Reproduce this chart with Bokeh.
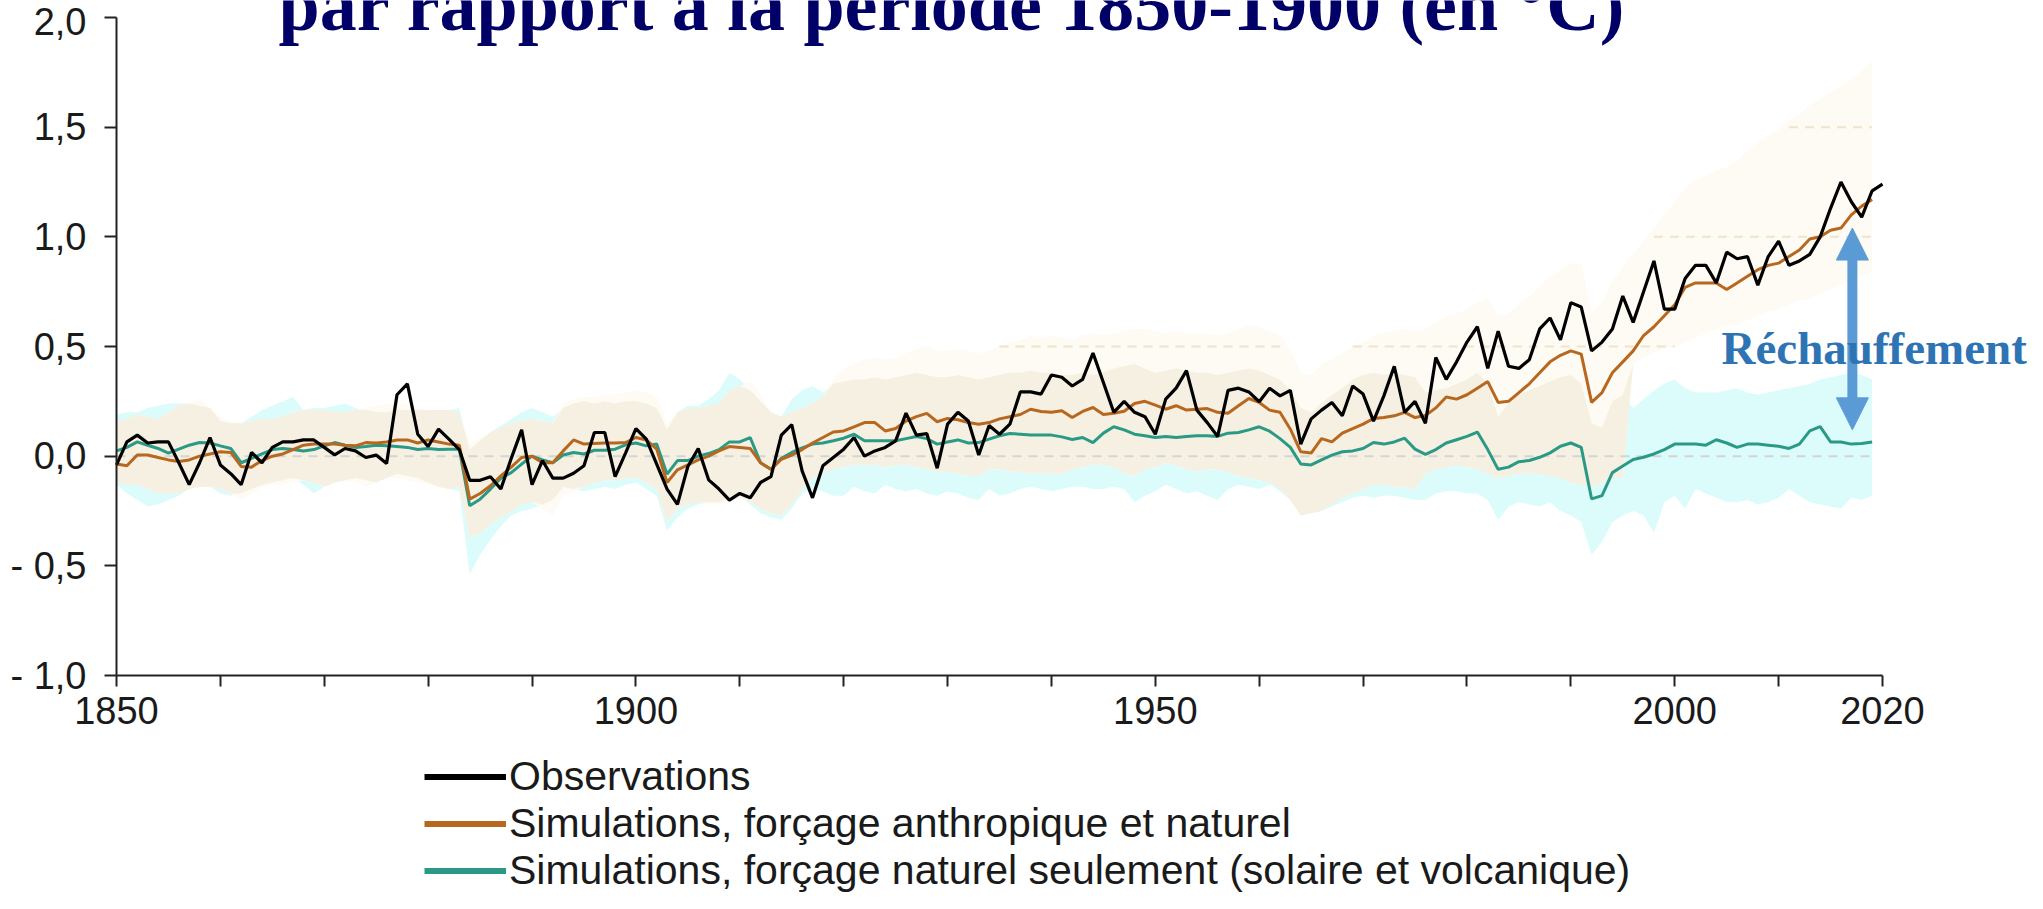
import numpy as np
from bokeh.plotting import figure
from bokeh.models import (Range1d, FixedTicker, Label, Arrow, NormalHead,
                          Legend, LegendItem)
from bokeh.embed import file_html
from bokeh.resources import INLINE

# ---------------- data ----------------
years_obs = list(range(1850, 2021))
years_sim = list(range(1850, 2020))

obs = [
    -0.04, 0.065, 0.096, 0.06, 0.065, 0.065, -0.03, -0.13, -0.03, 0.085,
    -0.04, -0.08, -0.13, 0.017, -0.03, 0.04, 0.065, 0.065, 0.074, 0.074,
    0.04, 0.006, 0.035, 0.024, -0.006, 0.005, -0.033, 0.28, 0.33, 0.10,
    0.044, 0.123, 0.078, 0.03, -0.11, -0.11, -0.094, -0.15, -0.01, 0.12,
    -0.13, -0.02, -0.10, -0.10, -0.078, -0.044, 0.108, 0.108, -0.093, 0.014,
    0.126, 0.078, -0.036, -0.15, -0.22, -0.047, 0.035, -0.108, -0.15, -0.20,
    -0.17, -0.19, -0.12, -0.093, 0.096, 0.144, -0.067, -0.19, -0.044, -0.006,
    0.032, 0.085, 0.0, 0.024, 0.04, 0.07, 0.196, 0.096, 0.103, -0.055,
    0.146, 0.20, 0.16, 0.005, 0.14, 0.10, 0.146, 0.293, 0.293, 0.283,
    0.37, 0.36, 0.32, 0.35, 0.47, 0.336, 0.20, 0.25, 0.20, 0.18,
    0.10, 0.26, 0.31, 0.39, 0.21, 0.153, 0.09, 0.30, 0.31, 0.293,
    0.248, 0.31, 0.275, 0.30, 0.055, 0.17, 0.21, 0.245, 0.184, 0.32,
    0.283, 0.16, 0.275, 0.41, 0.20, 0.25, 0.15, 0.45, 0.35, 0.43,
    0.52, 0.59, 0.40, 0.57, 0.41, 0.40, 0.44, 0.58, 0.63, 0.53,
    0.70, 0.68, 0.48, 0.52, 0.58, 0.73, 0.61, 0.75, 0.89, 0.67,
    0.67, 0.81, 0.87, 0.87, 0.79, 0.93, 0.90, 0.91, 0.78, 0.91,
    0.98, 0.87, 0.89, 0.92, 1.00, 1.13, 1.25, 1.16, 1.09, 1.21,
    1.24,
]

anth = [
    -0.036, -0.044, 0.005, 0.005, -0.006, -0.017, -0.024, -0.017, 0.0, 0.01,
    0.02, 0.017, -0.047, -0.05, -0.02, 0.0, 0.01, 0.03, 0.05, 0.055,
    0.055, 0.055, 0.05, 0.047, 0.062, 0.06, 0.065, 0.074, 0.074, 0.06,
    0.074, 0.065, 0.055, 0.05, -0.196, -0.17, -0.135, -0.09, -0.05, -0.006,
    0.0, -0.03, -0.03, 0.024, 0.074, 0.055, 0.058, 0.06, 0.06, 0.062,
    0.085, 0.074, 0.032, -0.12, -0.062, -0.04, -0.017, 0.0, 0.024, 0.044,
    0.04, 0.035, -0.03, -0.06, -0.014, 0.005, 0.03, 0.06, 0.085, 0.11,
    0.115, 0.134, 0.153, 0.153, 0.115, 0.126, 0.16, 0.18, 0.195, 0.157,
    0.172, 0.166, 0.153, 0.146, 0.153, 0.17, 0.18, 0.19, 0.214, 0.204,
    0.20, 0.207, 0.176, 0.204, 0.222, 0.19, 0.196, 0.205, 0.24, 0.25,
    0.233, 0.214, 0.23, 0.21, 0.214, 0.217, 0.20, 0.196, 0.23, 0.263,
    0.245, 0.21, 0.20, 0.123, 0.02, 0.014, 0.08, 0.065, 0.105, 0.126,
    0.146, 0.172, 0.176, 0.184, 0.20, 0.176, 0.185, 0.22, 0.27, 0.26,
    0.28, 0.31, 0.34, 0.245, 0.25, 0.29, 0.33, 0.38, 0.43, 0.46,
    0.48, 0.465, 0.245, 0.29, 0.38, 0.43, 0.48, 0.55, 0.59, 0.64,
    0.69, 0.77, 0.79, 0.79, 0.79, 0.76, 0.79, 0.82, 0.85, 0.87,
    0.88, 0.91, 0.94, 0.99, 1.00, 1.03, 1.04, 1.10, 1.14, 1.17,
]

nat = [
    0.024, 0.04, 0.065, 0.05, 0.035, 0.014, 0.032, 0.05, 0.062, 0.06,
    0.047, 0.035, -0.03, -0.01, 0.01, 0.03, 0.035, 0.03, 0.024, 0.03,
    0.047, 0.062, 0.05, 0.04, 0.044, 0.05, 0.047, 0.044, 0.04, 0.03,
    0.035, 0.03, 0.032, 0.032, -0.226, -0.196, -0.15, -0.10, -0.075, -0.036,
    0.0, -0.017, -0.03, 0.005, 0.017, 0.01, 0.027, 0.027, 0.032, 0.052,
    0.06, 0.047, 0.055, -0.082, -0.02, -0.02, 0.0, 0.012, 0.03, 0.065,
    0.065, 0.085, -0.03, -0.06, -0.01, 0.017, 0.038, 0.055, 0.06, 0.07,
    0.082, 0.10, 0.07, 0.07, 0.07, 0.07, 0.08, 0.09, 0.08, 0.055,
    0.065, 0.074, 0.06, 0.062, 0.078, 0.093, 0.103, 0.10, 0.096, 0.096,
    0.096, 0.088, 0.076, 0.085, 0.062, 0.105, 0.134, 0.12, 0.10, 0.093,
    0.085, 0.09, 0.085, 0.09, 0.093, 0.093, 0.09, 0.105, 0.108, 0.12,
    0.134, 0.114, 0.08, 0.04, -0.036, -0.04, -0.017, 0.005, 0.02, 0.024,
    0.035, 0.062, 0.055, 0.065, 0.082, 0.032, 0.008, 0.03, 0.06, 0.075,
    0.09, 0.11, 0.03, -0.06, -0.05, -0.025, -0.02, -0.005, 0.015, 0.045,
    0.06, 0.04, -0.195, -0.18, -0.075, -0.045, -0.015, -0.005, 0.01, 0.03,
    0.055, 0.055, 0.055, 0.05, 0.075, 0.06, 0.04, 0.055, 0.055, 0.05,
    0.045, 0.035, 0.055, 0.115, 0.135, 0.065, 0.065, 0.055, 0.058, 0.065,
]

nat_hi = [
    0.19, 0.20, 0.20, 0.22, 0.23, 0.24, 0.24, 0.24, 0.23, 0.22,
    0.16, 0.15, 0.15, 0.18, 0.21, 0.23, 0.25, 0.27, 0.21, 0.22,
    0.22, 0.23, 0.24, 0.22, 0.21, 0.20, 0.20, 0.21, 0.21, 0.21,
    0.21, 0.21, 0.21, 0.22, 0.03, 0.07, 0.11, 0.14, 0.17, 0.20,
    0.22, 0.20, 0.18, 0.22, 0.24, 0.25, 0.24, 0.25, 0.24, 0.25,
    0.25, 0.24, 0.22, 0.12, 0.20, 0.23, 0.23, 0.26, 0.30, 0.38,
    0.35, 0.30, 0.25, 0.20, 0.18, 0.26, 0.30, 0.32, 0.29, 0.33,
    0.34, 0.35, 0.35, 0.36, 0.35, 0.36, 0.37, 0.38, 0.37, 0.36,
    0.36, 0.37, 0.36, 0.35, 0.36, 0.37, 0.38, 0.38, 0.39, 0.38,
    0.38, 0.37, 0.37, 0.38, 0.37, 0.38, 0.40, 0.41, 0.42, 0.40,
    0.38, 0.39, 0.40, 0.39, 0.38, 0.38, 0.37, 0.38, 0.39, 0.40,
    0.39, 0.37, 0.35, 0.30, 0.22, 0.20, 0.24, 0.28, 0.31, 0.35,
    0.37, 0.38, 0.37, 0.38, 0.37, 0.36, 0.29, 0.30, 0.31, 0.33,
    0.35, 0.38, 0.33, 0.18, 0.24, 0.28, 0.30, 0.32, 0.34, 0.36,
    0.37, 0.33, 0.15, 0.13, 0.25, 0.28, 0.22, 0.26, 0.30, 0.33,
    0.35, 0.31, 0.29, 0.29, 0.29, 0.30, 0.31, 0.29, 0.28, 0.29,
    0.30, 0.31, 0.32, 0.33, 0.35, 0.36, 0.37, 0.38, 0.37, 0.35,
]

nat_lo = [
    -0.13, -0.17, -0.20, -0.23, -0.22, -0.20, -0.18, -0.15, -0.14, -0.14,
    -0.17, -0.18, -0.17, -0.15, -0.13, -0.12, -0.11, -0.10, -0.13, -0.17,
    -0.14, -0.12, -0.11, -0.10, -0.11, -0.12, -0.10, -0.08, -0.09, -0.10,
    -0.12, -0.14, -0.15, -0.16, -0.54, -0.45, -0.38, -0.32, -0.27, -0.25,
    -0.24, -0.22, -0.20, -0.14, -0.15, -0.16, -0.15, -0.14, -0.15, -0.13,
    -0.12, -0.15, -0.18, -0.34, -0.28, -0.24, -0.22, -0.21, -0.21, -0.19,
    -0.18, -0.22, -0.26, -0.28, -0.29, -0.24, -0.17, -0.15, -0.16, -0.18,
    -0.18, -0.14, -0.16, -0.17, -0.13, -0.15, -0.16, -0.15, -0.17, -0.18,
    -0.16, -0.17, -0.19, -0.20, -0.15, -0.18, -0.17, -0.15, -0.14, -0.15,
    -0.16, -0.15, -0.14, -0.14, -0.15, -0.15, -0.14, -0.15, -0.21, -0.18,
    -0.16, -0.13, -0.15, -0.17, -0.16, -0.18, -0.20, -0.15, -0.13, -0.14,
    -0.15, -0.13, -0.16, -0.20, -0.27, -0.26, -0.25, -0.23, -0.21, -0.19,
    -0.18, -0.19, -0.18, -0.18, -0.19, -0.20, -0.20, -0.17, -0.16, -0.16,
    -0.17, -0.17, -0.20, -0.29, -0.23, -0.21, -0.22, -0.23, -0.21, -0.25,
    -0.27, -0.30, -0.45, -0.39, -0.30, -0.27, -0.25, -0.27, -0.35, -0.21,
    -0.18, -0.24, -0.15, -0.17, -0.19, -0.21, -0.21, -0.20, -0.22, -0.21,
    -0.19, -0.15, -0.18, -0.21, -0.22, -0.23, -0.24, -0.19, -0.20, -0.18,
]

anth_hi = [
    0.16, 0.17, 0.19, 0.18, 0.17, 0.20, 0.23, 0.24, 0.26, 0.22,
    0.18, 0.16, 0.15, 0.16, 0.17, 0.17, 0.18, 0.20, 0.21, 0.21,
    0.21, 0.20, 0.20, 0.21, 0.22, 0.23, 0.24, 0.24, 0.24, 0.22,
    0.21, 0.21, 0.21, 0.20, 0.06, 0.08, 0.11, 0.13, 0.15, 0.16,
    0.17, 0.16, 0.15, 0.24, 0.26, 0.27, 0.27, 0.28, 0.28, 0.29,
    0.30, 0.29, 0.27, 0.15, 0.20, 0.22, 0.22, 0.23, 0.24, 0.30,
    0.32, 0.34, 0.28, 0.20, 0.18, 0.20, 0.22, 0.24, 0.27, 0.35,
    0.40, 0.42, 0.44, 0.45, 0.44, 0.45, 0.47, 0.49, 0.50, 0.48,
    0.48, 0.49, 0.48, 0.47, 0.48, 0.50, 0.52, 0.53, 0.55, 0.54,
    0.55, 0.54, 0.53, 0.55, 0.56, 0.55, 0.56, 0.57, 0.58, 0.58,
    0.57, 0.56, 0.57, 0.56, 0.56, 0.56, 0.55, 0.56, 0.58, 0.60,
    0.59, 0.57, 0.55, 0.48, 0.38, 0.37, 0.42, 0.44, 0.47, 0.50,
    0.52, 0.55, 0.56, 0.57, 0.58, 0.57, 0.58, 0.61, 0.64, 0.65,
    0.67, 0.70, 0.72, 0.64, 0.65, 0.69, 0.73, 0.77, 0.82, 0.85,
    0.88, 0.88, 0.66, 0.70, 0.80, 0.86, 0.92, 0.98, 1.04, 1.10,
    1.16, 1.22, 1.26, 1.28, 1.30, 1.32, 1.35, 1.39, 1.43, 1.46,
    1.49, 1.53, 1.56, 1.60, 1.63, 1.66, 1.69, 1.72, 1.76, 1.80,
]

anth_lo = [
    -0.12, -0.13, -0.13, -0.15, -0.17, -0.17, -0.17, -0.15, -0.14, -0.14,
    -0.15, -0.17, -0.20, -0.17, -0.14, -0.13, -0.13, -0.12, -0.11, -0.12,
    -0.14, -0.12, -0.11, -0.12, -0.14, -0.12, -0.10, -0.10, -0.11, -0.12,
    -0.13, -0.14, -0.15, -0.14, -0.37, -0.35, -0.31, -0.28, -0.25, -0.22,
    -0.21, -0.24, -0.27, -0.18, -0.16, -0.14, -0.12, -0.11, -0.11, -0.10,
    -0.10, -0.12, -0.15, -0.30, -0.24, -0.22, -0.21, -0.22, -0.22, -0.20,
    -0.19, -0.21, -0.24, -0.26, -0.27, -0.22, -0.15, -0.10, -0.07, -0.06,
    -0.05, -0.04, -0.04, -0.04, -0.05, -0.04, -0.04, -0.05, -0.06, -0.07,
    -0.07, -0.08, -0.09, -0.09, -0.06, -0.06, -0.07, -0.07, -0.08, -0.08,
    -0.08, -0.08, -0.06, -0.05, -0.04, -0.04, -0.05, -0.08, -0.09, -0.06,
    -0.05, -0.03, -0.04, -0.06, -0.07, -0.06, -0.06, -0.07, -0.09, -0.10,
    -0.11, -0.12, -0.15, -0.20, -0.27, -0.26, -0.25, -0.22, -0.19, -0.17,
    -0.15, -0.13, -0.13, -0.14, -0.14, -0.15, -0.08, -0.06, -0.05, -0.04,
    -0.05, -0.06, -0.08, -0.10, -0.09, -0.08, -0.08, -0.08, -0.09, -0.10,
    -0.12, -0.13, -0.14, -0.12, -0.10, -0.10, 0.42, 0.45, 0.47, 0.49,
    0.50, 0.52, 0.54, 0.56, 0.58, 0.59, 0.60, 0.62, 0.64, 0.66,
    0.67, 0.69, 0.71, 0.72, 0.74, 0.76, 0.78, 0.80, 0.82, 0.84,
]

x_tick_years = list(range(1850, 2021, 10))
x_label_years = [1850, 1900, 1950, 2000, 2020]
y_ticks = [-1.0, -0.5, 0.0, 0.5, 1.0, 1.5, 2.0]
y_tick_labels = ["- 1,0", "- 0,5", "0,0", "0,5", "1,0", "1,5", "2,0"]
grid_levels = [0.0, 0.5, 1.0, 1.5]

series_labels = ["Observations",
                 "Simulations, forçage anthropique et naturel",
                 "Simulations, forçage naturel seulement (solaire et volcanique)"]
title_text = "par rapport à la période 1850-1900 (en °C)"
warming_text = "Réchauffement"
arrow_year = 2017.1
arrow_lo, arrow_hi = 0.12, 1.04

# ---------------- style / layout ----------------
BLACK = "#000000"
ORANGE = "#b8671f"
TEAL = "#2a9a86"
CYAN = "#dcfcfc"
BEIGE = "#f5f0e1"
PALE = "#fdfbf3"
NAVY = "#000066"
ARROW_BLUE = "#5b9bd5"
TEXT_BLUE = "#2e74b5"
AXIS = "#222222"

W, H = 2027, 893
AX_LEFT = 116                   # canvas x of the 1850 level
AX_W, AX_H = 1766, 658          # pixel size of the 1850-2020 x -1..2 axes box
AX_TOP = 17                     # canvas y of the 2.0 level
px_per_year = AX_W / 170.0
px_per_unit = AX_H / 3.0
x_start = 1850 - AX_LEFT / px_per_year
x_end = 1850 + (W - AX_LEFT) / px_per_year
y_top = 2.0 + AX_TOP / px_per_unit
y_bot = -1.0 - (H - AX_TOP - AX_H) / px_per_unit

p = figure(width=W, height=H, x_range=Range1d(x_start, x_end), y_range=Range1d(y_bot, y_top),
           output_backend="svg", toolbar_location=None,
           min_border_left=0, min_border_right=0, min_border_top=0, min_border_bottom=0)
p.outline_line_color = None
p.xgrid.visible = False
p.ygrid.visible = False
p.background_fill_color = "white"
p.border_fill_color = "white"

a_lo = np.array(anth_lo); a_hi = np.array(anth_hi)
n_lo = np.array(nat_lo); n_hi = np.array(nat_hi)
ov_lo = np.maximum(a_lo, n_lo)
ov_hi = np.maximum(np.minimum(a_hi, n_hi), ov_lo)

p.varea(x=years_sim, y1=nat_lo, y2=nat_hi, fill_color=CYAN)
p.varea(x=years_sim, y1=anth_lo, y2=anth_hi, fill_color=PALE)
p.varea(x=years_sim, y1=ov_lo, y2=ov_hi, fill_color=BEIGE)

ys = np.array(years_sim, dtype=float)
for lvl in grid_levels:
    cov = ((a_lo <= lvl) & (a_hi >= lvl)) | ((n_lo <= lvl) & (n_hi >= lvl))
    yy = np.where(cov, lvl, np.nan)
    col = "#d4d4d4" if lvl == 0 else "#f0e4cc"
    p.line(ys, yy, line_color=col, line_width=2, line_dash="9 7")

p.line(years_sim, nat, line_color=TEAL, line_width=3.0)
p.line(years_sim, anth, line_color=ORANGE, line_width=3.0)
p.line(years_obs, obs, line_color=BLACK, line_width=3.2)

# axes (placed at fixed data positions inside the frame)
for ax in (p.xaxis[0], p.yaxis[0]):
    ax.axis_line_color = AXIS
    ax.axis_line_width = 2
    ax.major_tick_line_color = AXIS
    ax.major_tick_line_width = 2
    ax.minor_tick_line_color = None
    ax.major_tick_in = 0
    ax.major_label_text_font = "Liberation Sans"
    ax.major_label_text_font_size = "38px"
    ax.major_label_text_color = "#1a1a1a"

p.xaxis.fixed_location = -1.0
p.xaxis.bounds = (1850, 2020)
p.xaxis.ticker = FixedTicker(ticks=x_tick_years)
p.xaxis.major_label_overrides = {t: (str(t) if t in x_label_years else "") for t in x_tick_years}
p.xaxis.major_tick_out = 11
p.xaxis.major_label_standoff = 10

p.yaxis.fixed_location = 1850
p.yaxis.bounds = (-1.0, 2.0)
p.yaxis.ticker = FixedTicker(ticks=y_ticks)
p.yaxis.major_label_overrides = dict(zip(y_ticks, y_tick_labels))
p.yaxis.major_tick_out = 12
p.yaxis.major_label_standoff = 18

# arrow "Réchauffement"
head = 32
head_units = head / px_per_unit
p.add_layout(Arrow(x_start=arrow_year, y_start=arrow_lo + head_units * 0.95,
                   x_end=arrow_year, y_end=arrow_hi - head_units * 0.95,
                   start=None, end=None, line_color=ARROW_BLUE, line_width=10))
p.add_layout(Arrow(x_start=arrow_year, y_start=arrow_lo, x_end=arrow_year, y_end=arrow_hi,
                   start=NormalHead(size=head, fill_color=ARROW_BLUE, line_color=ARROW_BLUE, line_width=1),
                   end=NormalHead(size=head, fill_color=ARROW_BLUE, line_color=ARROW_BLUE, line_width=1),
                   line_alpha=0))
p.add_layout(Label(x=2004.5, y=0.495, text=warming_text, text_font="Liberation Serif",
                   text_font_style="bold", text_font_size="47px", text_color=TEXT_BLUE,
                   text_align="left", text_baseline="alphabetic"))

# title (only its lower line shows, cut by the top edge as in the original slide)
p.add_layout(Label(x=1865.6, y=2.055, text=title_text, text_font="Liberation Serif",
                   text_font_style="bold", text_font_size="74px", text_color=NAVY,
                   text_align="left", text_baseline="alphabetic"))

# legend (inside the frame, under the x axis); NaN-only renderers give the swatches
nan2 = [np.nan, np.nan]
r1 = p.line([1850, 1851], nan2, line_color=BLACK, line_width=6)
r2 = p.line([1850, 1851], nan2, line_color=ORANGE, line_width=6)
r3 = p.line([1850, 1851], nan2, line_color=TEAL, line_width=6)
legend = Legend(items=[LegendItem(label=series_labels[0], renderers=[r1]),
                       LegendItem(label=series_labels[1], renderers=[r2]),
                       LegendItem(label=series_labels[2], renderers=[r3])],
                location=(424, -1), orientation="vertical",
                glyph_width=82, glyph_height=47, label_height=47, spacing=0,
                padding=0, margin=0, label_standoff=3,
                label_text_font="Liberation Sans", label_text_font_size="41px",
                label_text_color="#1a1a1a",
                background_fill_alpha=0, border_line_alpha=0)
p.add_layout(legend)

open("out.html", "w").write(file_html(p, INLINE))
